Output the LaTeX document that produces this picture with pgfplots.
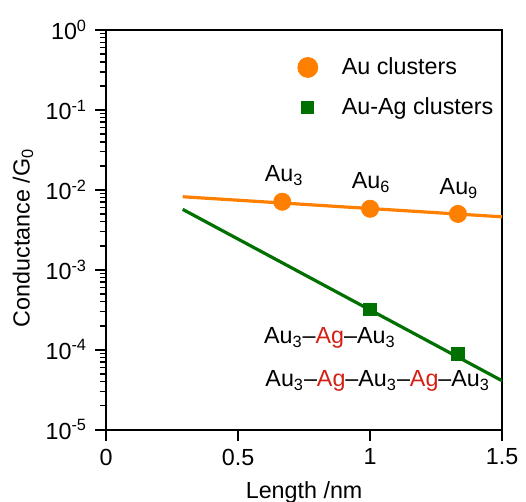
\documentclass[border={2.5bp -5bp 0bp 6bp}]{standalone}
\usepackage{fontspec}
\setmainfont{Liberation Sans}
\usepackage{pgfplots}
\pgfplotsset{compat=1.18}
\definecolor{auorange}{RGB}{255,128,0}
\definecolor{aggreen}{RGB}{0,112,0}
\definecolor{agred}{RGB}{212,32,20}
\newcommand{\Ag}{\textcolor{agred}{Ag}}
\newcommand{\Au}[1]{Au\textsubscript{#1}}

\begin{document}
\fontsize{11.7}{14}\selectfont
\begin{tikzpicture}
\begin{axis}[
    scale only axis,
    width=198bp, height=200bp,
    xmin=0, xmax=1.5,
    ymode=log, ymin=1e-5, ymax=1,
    xtick={0,0.5,1,1.5},
    xticklabels={0,0.5,1,1.5},
    ytick={1e-5,1e-4,1e-3,1e-2,1e-1,1},
    yticklabels={10\textsuperscript{-5},10\textsuperscript{-4},10\textsuperscript{-3},10\textsuperscript{-2},10\textsuperscript{-1},10\textsuperscript{0}},
    xtick pos=bottom, ytick pos=left,
    tick align=outside,
    major tick length=5.5bp, minor tick length=3.3bp,
    every tick/.style={black, line width=0.8bp},
    axis line style={line width=1bp},
    tick label style={font=\fontsize{11.7}{14}\selectfont},
    xlabel={Length /nm},
    ylabel={Conductance /G\textsubscript{0}},
    xlabel style={at={(axis description cs:0.5,-0.1725)}, anchor=base},
    ylabel style={at={(axis description cs:-0.21,0.48)}, anchor=center, rotate=0},
    legend style={draw=none, fill=none, at={(axis description cs:0.468,0.9525)}, anchor=north west,
        row sep=6bp, font=\fontsize{11.7}{14}\selectfont,
        /tikz/every odd column/.append style={column sep=10bp}},
    legend cell align=left,
]
% fitted lines
\addplot[auorange, line width=1.6bp, forget plot] coordinates {(0.29,0.0082) (1.5,0.0046)};
\addplot[aggreen, line width=1.6bp, forget plot] coordinates {(0.29,0.0057) (1.5,0.000041)};
% measured points
\addplot[only marks, mark=*, mark size=4.3bp, color=auorange,
    legend image post style={mark size=5bp}] coordinates {
    (0.667,0.0071) (1.0,0.0058) (1.333,0.0050)
};
\addlegendentry{Au clusters}
\addplot[only marks, mark=square*, mark size=3.2bp, color=aggreen,
    legend image post style={mark size=3bp}] coordinates {
    (1.0,0.00032) (1.333,0.000088)
};
\addlegendentry{Au-Ag clusters}

\node[anchor=base] at (axis cs:0.674,0.0126) {\Au{3}};
\node[anchor=base] at (axis cs:1.004,0.0103) {\Au{6}};
\node[anchor=base] at (axis cs:1.337,0.0087) {\Au{9}};
\node[anchor=base west, inner sep=0pt] at (axis cs:0.597,0.000119) {\Au{3}--\Ag--\Au{3}};
\node[anchor=base west, inner sep=0pt] at (axis cs:0.602,0.0000346) {\Au{3}--\Ag--\Au{3}--\Ag--\Au{3}};
\end{axis}
\end{tikzpicture}
\end{document}
